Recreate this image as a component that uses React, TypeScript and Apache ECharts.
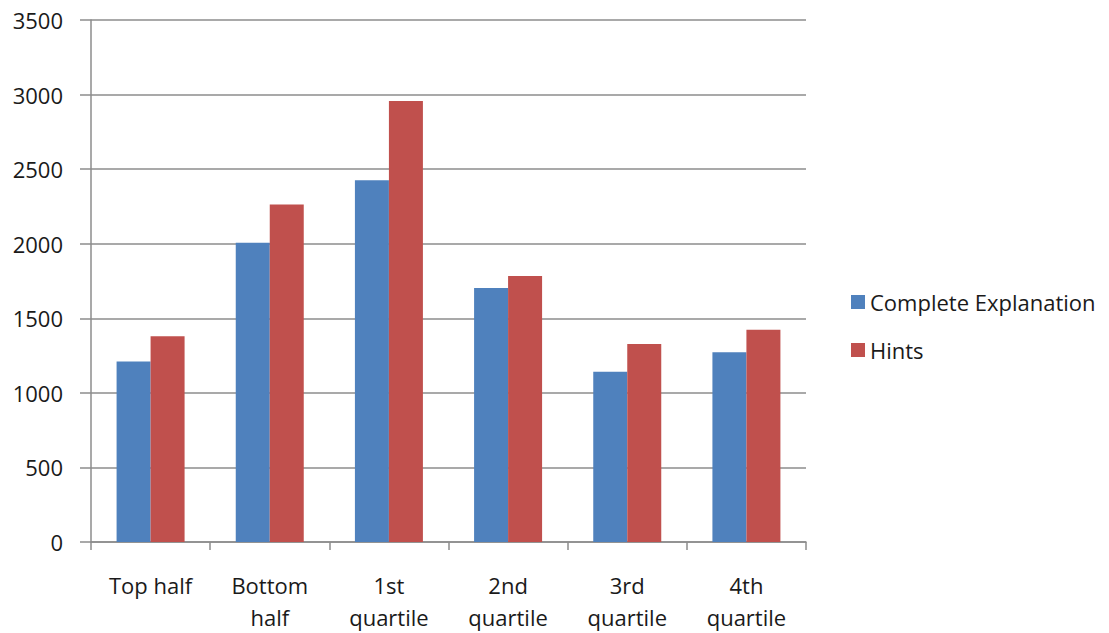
import React, { useEffect, useRef } from "react";
import * as echarts from "echarts";

const categories = ["Top half", "Bottom\nhalf", "1st\nquartile", "2nd\nquartile", "3rd\nquartile", "4th\nquartile"];
const completeExplanation = [1211, 2007, 2425, 1703, 1142, 1273];
const hints = [1380, 2263, 2957, 1783, 1327, 1423];
const yTicks = { min: 0, max: 3500, interval: 500 };

export default function App() {
  const ref = useRef<HTMLDivElement>(null);
  useEffect(() => {
    document.body.style.margin = "0";
    const chart = echarts.init(ref.current!, null, { renderer: "svg" });
    const font = "Open Sans";
    const fs = 22;
    chart.setOption({
      animation: false,
      backgroundColor: "#ffffff",
      textStyle: { fontFamily: font },
      legend: {
        orient: "vertical",
        left: 846,
        top: 283,
        itemWidth: 14,
        itemHeight: 14,
        itemGap: 20,
        icon: "rect",
        textStyle: { fontFamily: font, fontSize: fs, lineHeight: 28, color: "#1a1a1a" },
        data: ["Complete Explanation", "Hints"],
      },
      grid: { left: 91, top: 20, width: 715, height: 524, containLabel: false },
      xAxis: {
        type: "category",
        data: categories,
        axisLine: { lineStyle: { color: "#8c8c8c", width: 1.5 } },
        axisTick: { show: true, length: 8, lineStyle: { color: "#8c8c8c", width: 1.5 } },
        axisLabel: {
          interval: 0,
          margin: 27,
          fontFamily: font,
          fontSize: fs,
          lineHeight: 32,
          color: "#1a1a1a",
        },
      },
      yAxis: {
        type: "value",
        min: yTicks.min,
        max: yTicks.max,
        interval: yTicks.interval,
        axisLine: { show: true, lineStyle: { color: "#8c8c8c", width: 1.5 } },
        axisTick: { show: true, length: 11, lineStyle: { color: "#8c8c8c", width: 1.5 } },
        splitLine: { lineStyle: { color: "#8c8c8c", width: 1.5 } },
        axisLabel: {
          margin: 28,
          fontFamily: font,
          fontSize: fs,
          color: "#1a1a1a",
          formatter: (v: number) => String(v),
        },
      },
      series: [
        {
          name: "Complete Explanation",
          type: "bar",
          data: completeExplanation,
          barWidth: 34,
          barGap: "0%",
          itemStyle: { color: "#4f81bd" },
        },
        {
          name: "Hints",
          type: "bar",
          data: hints,
          barWidth: 34,
          barGap: "0%",
          itemStyle: { color: "#c0504d" },
        },
      ],
    });
    return () => chart.dispose();
  }, []);
  return <div ref={ref} style={{ position: "absolute", left: 0, top: 0, width: 1109, height: 633 }} />;
}
